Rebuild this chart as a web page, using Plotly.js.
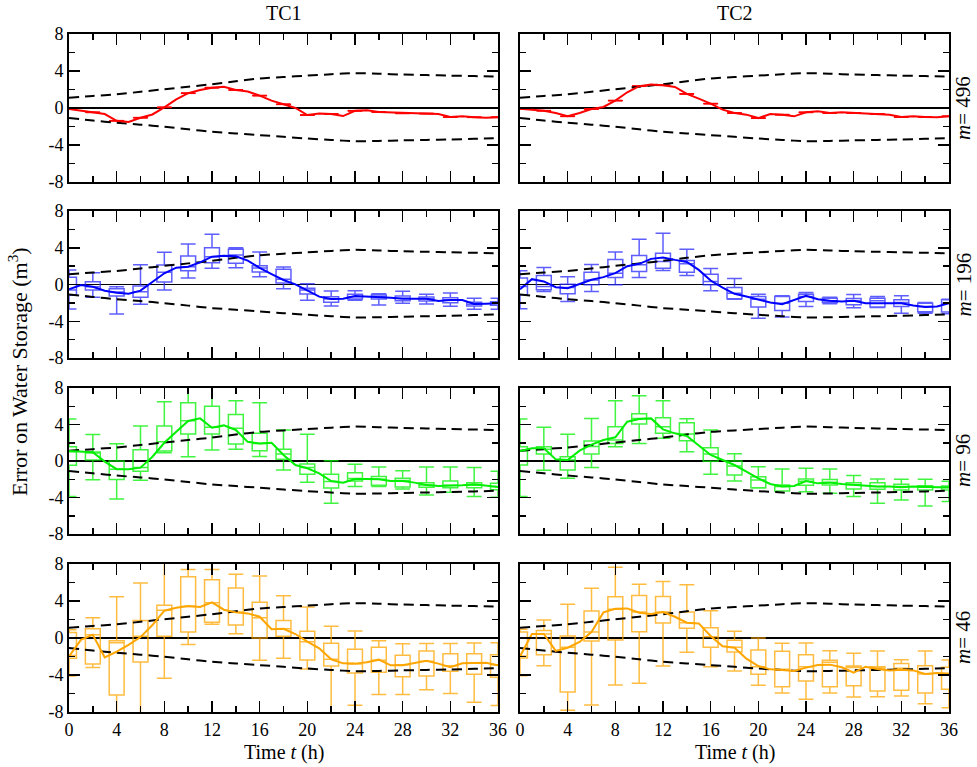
<!DOCTYPE html>
<html><head><meta charset="utf-8">
<script src="https://cdn.plot.ly/plotly-3.0.1.min.js"></script>
<style>body{margin:0;background:#fff}#chart{width:977px;height:767px}</style>
</head><body><div id="chart"></div>
<script>
// ---------- data ----------
const hours = [0,1,2,3,4,5,6,7,8,9,10,11,12,13,14,15,16,17,18,19,20,21,22,23,24,25,26,27,28,29,30,31,32,33,34,35,36];
const boxHours = [0,2,4,6,8,10,12,14,16,18,20,22,24,26,28,30,32,34,36];
const xTickVals = [0,4,8,12,16,20,24,28,32,36];
const xTickText = ['0','4','8','12','16','20','24','28','32','36'];
const xMinorVals = [2,6,10,14,18,22,26,30,34];
const yTickVals = [-8,-4,0,4,8];
const yTickText = ['-8','-4','0','4','8'];
const yMinorVals = [-6,-2,2,6];
const columnTitles = ['TC1','TC2'];
const rowLabels = ['<i>m</i>= 496','<i>m</i>= 196','<i>m</i>= 96','<i>m</i>= 46'];

// dashed envelope (same in every panel), at boxHours
const envUpper = [1.12,1.30,1.48,1.75,2.03,2.30,2.57,2.90,3.19,3.35,3.50,3.65,3.77,3.70,3.62,3.56,3.50,3.45,3.40];
const envLower = [-1.09,-1.35,-1.60,-1.80,-2.03,-2.30,-2.57,-2.75,-2.93,-3.12,-3.30,-3.45,-3.59,-3.56,-3.50,-3.45,-3.40,-3.33,-3.26];

// m = 496 (red)
const red1Line = [-0.10,-0.30,-0.47,-0.65,-1.38,-1.50,-1.05,-0.70,0.07,0.94,1.60,1.95,2.20,2.30,1.95,1.78,1.34,0.80,0.40,0.00,-0.76,-0.60,-0.65,-0.87,-0.30,-0.25,-0.43,-0.47,-0.58,-0.58,-0.60,-0.65,-0.98,-0.90,-1.00,-1.05,-1.00];
const red1Lo  = [-0.14,-0.51,-1.42,-1.09,0.03,1.56,2.16,1.91,1.30,0.36,-0.80,-0.69,-0.34,-0.47,-0.62,-0.64,-1.02,-1.04,-1.04];
const red1Q1  = [-0.12,-0.49,-1.40,-1.07,0.05,1.58,2.18,1.93,1.32,0.38,-0.78,-0.67,-0.32,-0.45,-0.60,-0.62,-1.00,-1.02,-1.02];
const red1Med = [-0.10,-0.47,-1.38,-1.05,0.07,1.60,2.20,1.95,1.34,0.40,-0.76,-0.65,-0.30,-0.43,-0.58,-0.60,-0.98,-1.00,-1.00];
const red1Q3  = [-0.08,-0.45,-1.36,-1.03,0.09,1.62,2.22,1.97,1.36,0.42,-0.74,-0.63,-0.28,-0.41,-0.56,-0.58,-0.96,-0.98,-0.98];
const red1Hi  = [-0.06,-0.43,-1.34,-1.01,0.11,1.64,2.24,1.99,1.38,0.44,-0.72,-0.61,-0.26,-0.39,-0.54,-0.56,-0.94,-0.96,-0.96];

const red2Line = [-0.07,-0.18,-0.29,-0.54,-0.90,-0.54,-0.11,0.11,0.80,1.70,2.36,2.54,2.46,2.28,1.52,1.01,0.47,-0.18,-0.54,-0.72,-1.09,-0.65,-0.72,-0.90,-0.47,-0.36,-0.54,-0.47,-0.54,-0.62,-0.65,-0.72,-0.98,-0.90,-0.98,-1.01,-0.90];
const red2Lo  = [-0.11,-0.33,-0.94,-0.15,0.76,2.32,2.42,1.48,0.43,-0.58,-1.13,-0.76,-0.51,-0.58,-0.58,-0.69,-1.02,-1.02,-0.94];
const red2Q1  = [-0.09,-0.31,-0.92,-0.13,0.78,2.34,2.44,1.50,0.45,-0.56,-1.11,-0.74,-0.49,-0.56,-0.56,-0.67,-1.00,-1.00,-0.92];
const red2Med = [-0.07,-0.29,-0.90,-0.11,0.80,2.36,2.46,1.52,0.47,-0.54,-1.09,-0.72,-0.47,-0.54,-0.54,-0.65,-0.98,-0.98,-0.90];
const red2Q3  = [-0.05,-0.27,-0.88,-0.09,0.82,2.38,2.48,1.54,0.49,-0.52,-1.07,-0.70,-0.45,-0.52,-0.52,-0.63,-0.96,-0.96,-0.88];
const red2Hi  = [-0.03,-0.25,-0.86,-0.07,0.84,2.40,2.50,1.56,0.51,-0.50,-1.05,-0.68,-0.43,-0.50,-0.50,-0.61,-0.94,-0.94,-0.86];

// m = 196 (blue)
const blue1Line = [-0.53,-0.05,-0.24,-0.67,-0.89,-1.00,-0.67,0.27,1.22,1.83,1.94,2.41,3.03,3.14,3.07,2.60,1.80,1.14,0.49,0.02,-0.67,-1.32,-1.58,-1.54,-1.25,-1.29,-1.40,-1.43,-1.54,-1.50,-1.54,-1.80,-1.69,-1.69,-2.12,-2.09,-2.05];
const blue1Lo  = [-2.67,-1.40,-3.20,-2.16,-0.60,0.70,1.76,1.83,0.85,-0.45,-1.72,-2.34,-1.72,-2.23,-2.05,-2.12,-2.38,-2.70,-2.70];
const blue1Q1  = [-1.18,-0.60,-1.25,-1.40,0.27,1.50,2.38,2.30,1.36,0.16,-1.03,-1.94,-1.58,-1.58,-1.76,-1.80,-1.98,-2.34,-2.27];
const blue1Med = [-0.60,-0.24,-0.82,-0.78,1.32,1.94,3.03,3.20,1.80,0.56,-0.60,-1.58,-1.32,-1.32,-1.50,-1.54,-1.65,-2.16,-2.05];
const blue1Q3  = [0.78,0.30,-0.45,-0.16,2.12,3.10,4.00,3.83,2.05,1.65,-0.42,-1.32,-1.07,-1.14,-1.25,-1.36,-1.43,-1.94,-1.87];
const blue1Hi  = [1.58,1.29,-0.24,2.16,3.50,4.40,5.46,4.00,3.54,1.90,0.09,-0.70,-0.67,-1.00,-0.74,-1.07,-0.92,-1.50,-1.50];

const blue2Line = [-0.51,0.58,0.33,-0.29,-0.40,0.07,0.51,0.80,1.23,1.99,2.25,2.79,2.93,2.68,2.46,1.59,0.43,-0.33,-1.01,-1.30,-1.67,-1.96,-2.14,-1.67,-1.23,-1.60,-1.78,-1.85,-1.78,-2.03,-2.03,-2.03,-2.03,-2.28,-2.46,-2.39,-2.03];
const blue2Lo  = [-2.64,-0.76,-1.85,-0.76,-0.04,0.76,1.52,0.98,-0.69,-1.60,-3.66,-3.55,-2.39,-2.10,-2.54,-2.50,-3.12,-3.12,-3.19];
const blue2Q1  = [-1.12,-0.58,-1.01,-0.04,0.76,1.41,1.78,1.34,-0.04,-1.56,-2.46,-2.83,-1.85,-1.96,-2.21,-2.46,-2.39,-2.97,-3.00];
const blue2Med = [-0.22,-0.22,-0.33,0.50,1.23,2.14,2.50,2.25,0.33,-0.94,-1.60,-2.03,-1.30,-1.78,-1.78,-1.78,-1.96,-2.39,-2.03];
const blue2Q3  = [0.70,0.98,0.04,1.34,2.72,3.15,3.40,2.61,1.12,-0.33,-1.30,-1.30,-1.05,-1.49,-1.52,-1.49,-1.67,-2.03,-1.67];
const blue2Hi  = [1.49,1.85,0.83,2.17,3.55,4.93,5.58,3.84,1.74,0.65,-1.05,-1.23,-0.87,-1.38,-1.09,-1.30,-1.23,-1.96,-1.60];

// m = 96 (green)
const green1Line = [1.10,1.06,0.95,-0.07,-0.90,-0.90,-0.73,0.47,2.00,3.20,4.38,4.67,3.65,3.90,3.40,2.10,1.93,2.00,0.66,-0.44,-0.80,-1.35,-2.19,-2.37,-1.97,-1.97,-2.00,-2.19,-2.19,-2.37,-2.63,-2.74,-2.74,-2.66,-2.55,-2.66,-2.85];
const green1Lo  = [-3.90,-2.05,-4.16,-2.10,0.90,0.47,1.20,1.30,0.50,-1.00,-2.34,-4.64,-2.80,-2.80,-3.07,-3.72,-3.43,-3.90,-3.98];
const green1Q1  = [-0.47,0.10,-2.04,-1.13,1.10,2.96,2.96,1.86,1.13,0.18,-1.46,-2.96,-2.20,-2.66,-2.85,-2.88,-2.92,-2.92,-3.14];
const green1Med = [1.00,0.95,-0.90,-0.70,2.10,4.40,3.70,3.58,1.93,0.77,-0.70,-2.26,-1.93,-2.00,-2.15,-2.63,-2.66,-2.66,-2.80];
const green1Q3  = [1.57,0.98,0.00,1.24,3.83,6.39,6.00,5.10,3.03,1.30,-0.33,-1.46,-1.30,-1.70,-1.90,-2.37,-2.19,-2.37,-2.45];
const green1Hi  = [4.60,2.90,1.90,3.83,6.50,8.30,8.10,6.60,6.39,3.40,2.92,0.04,-0.36,-0.66,-1.06,-0.66,-0.66,-0.70,-1.13];

const green2Line = [1.10,1.39,1.39,0.18,0.11,1.13,1.79,2.30,2.60,4.30,4.60,4.67,3.47,3.03,2.74,1.75,0.66,0.11,-0.44,-1.17,-1.90,-2.52,-2.80,-2.74,-2.19,-2.45,-2.37,-2.52,-2.60,-2.74,-2.80,-2.80,-2.88,-2.80,-2.88,-2.88,-2.88];
const green2Lo  = [-3.90,-1.02,-1.90,-0.70,1.57,1.93,2.48,1.02,-1.46,-2.19,-2.95,-3.30,-3.36,-3.54,-3.90,-4.64,-4.27,-4.93,-4.45];
const green2Q1  = [-0.44,0.77,-1.00,0.77,1.93,4.05,3.03,2.23,-0.04,-1.53,-2.92,-3.28,-2.66,-2.63,-3.07,-3.10,-3.18,-3.18,-3.18];
const green2Med = [1.13,1.28,0.10,1.60,2.30,4.67,3.76,2.96,0.77,-0.55,-2.08,-2.80,-2.23,-2.34,-2.60,-2.80,-2.80,-2.88,-2.92];
const green2Q3  = [1.57,1.57,0.47,2.19,3.76,5.18,4.74,4.20,1.46,0.00,-1.72,-2.63,-1.97,-2.04,-2.37,-2.37,-2.55,-2.70,-2.74];
const green2Hi  = [4.60,3.69,2.92,4.67,6.60,7.15,6.60,4.63,3.40,0.80,-0.62,-0.88,-0.80,-0.88,-1.60,-1.97,-2.00,-2.00,-2.23];

// m = 46 (orange)
const orange1Line = [-2.00,-0.20,0.36,-2.10,-1.48,-0.75,0.10,1.40,2.95,3.28,3.46,3.35,3.86,3.06,2.77,2.66,2.30,0.94,1.00,0.43,-0.40,-1.12,-2.30,-2.74,-2.77,-2.63,-2.34,-2.95,-2.95,-2.74,-2.45,-2.77,-3.17,-2.74,-2.67,-2.67,-2.95];
const orange1Lo  = [-4.10,-3.20,-8.50,-8.50,-4.36,-0.70,1.50,0.47,-2.40,-2.20,-3.35,-8.50,-7.28,-6.10,-6.10,-5.60,-6.00,-6.95,-7.30];
const orange1Q1  = [-2.20,-2.80,-6.15,-2.60,0.18,0.65,1.70,1.40,0.00,0.18,-2.38,-3.03,-3.78,-3.70,-4.18,-4.10,-3.60,-3.93,-4.25];
const orange1Med = [-1.90,0.35,-0.50,0.20,3.00,3.40,3.80,2.80,2.20,1.00,-0.40,-2.30,-2.80,-2.40,-2.90,-2.50,-3.00,-2.70,-2.90];
const orange1Q3  = [0.60,1.00,-0.30,1.90,3.53,6.63,6.30,5.40,3.86,1.90,0.72,-0.58,-1.22,-1.00,-1.87,-1.40,-1.70,-1.70,-1.80];
const orange1Hi  = [0.90,2.20,4.45,5.95,8.50,7.40,7.40,6.90,6.70,4.58,3.35,1.26,0.76,-0.30,-0.61,-0.60,-0.60,-0.54,-0.50];

const orange2Line = [-2.00,0.43,0.43,-1.40,-1.05,-0.43,0.65,2.77,3.17,3.20,2.74,2.60,2.80,2.30,1.66,1.58,0.22,-0.90,-1.05,-2.23,-3.03,-3.39,-3.46,-3.57,-3.20,-2.92,-2.88,-3.17,-3.75,-3.10,-3.35,-3.50,-3.42,-3.50,-3.90,-3.78,-3.90];
const orange2Lo  = [-4.07,-3.00,-7.80,-7.24,-5.08,-4.90,-3.03,-1.55,-3.10,-3.57,-5.10,-5.95,-6.63,-5.95,-6.38,-6.34,-6.27,-7.10,-7.53];
const orange2Q1  = [-2.16,-1.80,-5.84,-0.32,-0.22,0.68,1.62,1.05,-1.00,-1.50,-3.93,-5.26,-4.65,-5.26,-5.15,-5.73,-5.66,-5.95,-5.55];
const orange2Med = [-1.95,0.43,-1.00,0.65,3.10,2.80,2.80,1.66,0.14,-1.00,-3.10,-3.39,-3.10,-2.63,-3.20,-3.28,-3.28,-3.90,-3.82];
const orange2Q3  = [0.65,0.80,0.22,2.92,4.47,4.60,4.50,2.80,1.12,-0.25,-1.30,-1.44,-1.80,-2.41,-3.03,-3.10,-2.77,-3.00,-3.17];
const orange2Hi  = [0.94,1.95,3.64,5.37,7.64,5.80,6.10,5.77,2.95,0.72,0.00,-0.58,-0.54,-1.37,-1.66,-1.40,-2.34,-1.40,-2.38];

// ---------- layout helpers ----------
const W = 977, H = 767;
const colPx = [[69,498],[520,949]];
const rowPx = [[34,182],[211,358],[388,534],[564,712]];
const FONT = 'Liberation Serif, Times New Roman, serif';

const panels = [
  {row:0,col:0,color:'#ff0000',boxColor:'rgba(255,0,0,0.9)',boxW:1.2,line:red1Line,lo:red1Lo,q1:red1Q1,med:red1Med,q3:red1Q3,hi:red1Hi},
  {row:0,col:1,color:'#ff0000',boxColor:'rgba(255,0,0,0.9)',boxW:1.2,line:red2Line,lo:red2Lo,q1:red2Q1,med:red2Med,q3:red2Q3,hi:red2Hi},
  {row:1,col:0,color:'#0000ff',boxColor:'rgba(40,40,255,0.75)',boxW:1.25,line:blue1Line,lo:blue1Lo,q1:blue1Q1,med:blue1Med,q3:blue1Q3,hi:blue1Hi},
  {row:1,col:1,color:'#0000ff',boxColor:'rgba(40,40,255,0.75)',boxW:1.25,line:blue2Line,lo:blue2Lo,q1:blue2Q1,med:blue2Med,q3:blue2Q3,hi:blue2Hi},
  {row:2,col:0,color:'#00ee00',boxColor:'rgba(0,240,0,0.75)',boxW:1.25,line:green1Line,lo:green1Lo,q1:green1Q1,med:green1Med,q3:green1Q3,hi:green1Hi},
  {row:2,col:1,color:'#00ee00',boxColor:'rgba(0,240,0,0.75)',boxW:1.25,line:green2Line,lo:green2Lo,q1:green2Q1,med:green2Med,q3:green2Q3,hi:green2Hi},
  {row:3,col:0,color:'#ffa500',boxColor:'rgba(255,165,0,0.75)',boxW:1.25,line:orange1Line,lo:orange1Lo,q1:orange1Q1,med:orange1Med,q3:orange1Q3,hi:orange1Hi},
  {row:3,col:1,color:'#ffa500',boxColor:'rgba(255,165,0,0.75)',boxW:1.25,line:orange2Line,lo:orange2Lo,q1:orange2Q1,med:orange2Med,q3:orange2Q3,hi:orange2Hi}
];

const traces = [];
const layout = {
  width: W, height: H,
  margin: {l:0, r:0, t:0, b:0},
  paper_bgcolor: '#fff', plot_bgcolor: '#fff',
  showlegend: false,
  font: {family: FONT, size: 18, color: '#000'},
  annotations: []
};

const tickCommon = {
  ticks: 'inside', ticklen: 11, tickwidth: 1.5, tickcolor: '#000',
  mirror: 'allticks', showline: true, linecolor: '#000', linewidth: 2,
  showgrid: false, fixedrange: true,
  tickfont: {family: FONT, size: 18, color: '#000'}
};

panels.forEach((p, i) => {
  const n = i + 1;
  const xa = 'x' + (n === 1 ? '' : n), ya = 'y' + (n === 1 ? '' : n);
  const xkey = 'xaxis' + (n === 1 ? '' : n), ykey = 'yaxis' + (n === 1 ? '' : n);
  const cx = colPx[p.col], ry = rowPx[p.row];
  layout[xkey] = Object.assign({}, tickCommon, {
    domain: [cx[0]/W, cx[1]/W], range: [0, 36], anchor: ya,
    tickmode: 'array', tickvals: xTickVals, ticktext: xTickText,
    showticklabels: p.row === 3, zeroline: false,
    minor: {tickmode:'array', tickvals: xMinorVals, ticks:'inside', ticklen: 6, tickwidth: 1.5, tickcolor:'#000', showgrid:false}
  });
  layout[ykey] = Object.assign({}, tickCommon, {
    domain: [1 - ry[1]/H, 1 - ry[0]/H], range: [-8, 8], anchor: xa,
    tickmode: 'array', tickvals: yTickVals, ticktext: yTickText,
    showticklabels: p.col === 0,
    zeroline: true, zerolinecolor: '#000', zerolinewidth: 1.2,
    minor: {tickmode:'array', tickvals: yMinorVals, ticks:'inside', ticklen: 6, tickwidth: 1.5, tickcolor:'#000', showgrid:false}
  });
  // envelope
  [envUpper, envLower].forEach(env => traces.push({
    type: 'scatter', mode: 'lines', x: boxHours, y: env, xaxis: xa, yaxis: ya,
    line: {color: '#000', width: 2, dash: '10px,6px', shape: 'spline', smoothing: 0.6},
    hoverinfo: 'skip'
  }));
  // boxes
  traces.push({
    type: 'box', x: boxHours, q1: p.q1, median: p.med, q3: p.q3,
    lowerfence: p.lo, upperfence: p.hi, xaxis: xa, yaxis: ya,
    width: p.boxW, whiskerwidth: 1, boxpoints: false,
    fillcolor: 'rgba(0,0,0,0)', line: {color: p.boxColor, width: p.row === 0 ? 1 : 1.5},
    hoverinfo: 'skip'
  });
  // median line
  traces.push({
    type: 'scatter', mode: 'lines', x: hours, y: p.line, xaxis: xa, yaxis: ya,
    line: {color: p.color, width: 2}, hoverinfo: 'skip'
  });
});

// column titles
columnTitles.forEach((t, c) => layout.annotations.push({
  text: t, xref: 'paper', yref: 'paper', x: (colPx[c][0] + colPx[c][1]) / 2 / W, y: 1 - 13/H,
  xanchor: 'center', yanchor: 'middle', showarrow: false, font: {family: FONT, size: 20, color: '#000'}
}));
// row labels
rowLabels.forEach((t, r) => layout.annotations.push({
  text: t, xref: 'paper', yref: 'paper', x: 963/W, y: 1 - (rowPx[r][0] + rowPx[r][1]) / 2 / H,
  xanchor: 'center', yanchor: 'middle', textangle: -90, showarrow: false,
  font: {family: FONT, size: 21, color: '#000'}
}));
// x titles
[0, 1].forEach(c => layout.annotations.push({
  text: 'Time <i>t</i> (h)', xref: 'paper', yref: 'paper', x: (colPx[c][0] + colPx[c][1]) / 2 / W, y: 1 - 752/H,
  xanchor: 'center', yanchor: 'middle', showarrow: false, font: {family: FONT, size: 20, color: '#000'}
}));
// y title
layout.annotations.push({
  text: 'Error on Water Storage (m<sup>3</sup>)', xref: 'paper', yref: 'paper', x: 18/W, y: 1 - 372/H,
  xanchor: 'center', yanchor: 'middle', textangle: -90, showarrow: false,
  font: {family: FONT, size: 22, color: '#000'}
});

Plotly.newPlot('chart', traces, layout, {displayModeBar: false, staticPlot: true});
</script>
</body></html>
